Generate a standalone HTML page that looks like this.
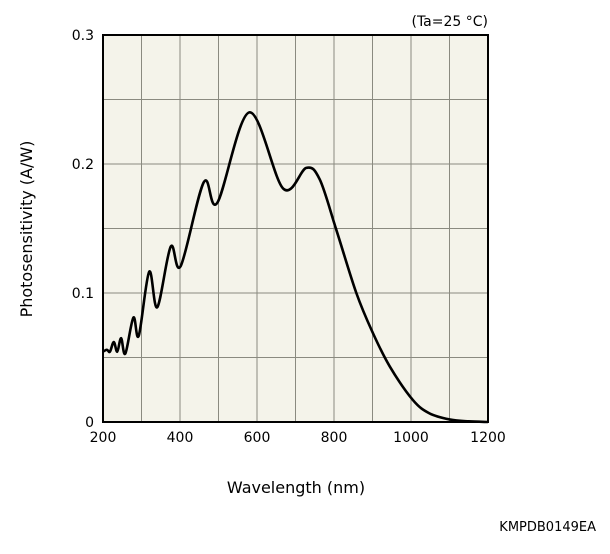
<!DOCTYPE html>
<html><head><meta charset="utf-8"><style>
body{margin:0;background:#fff;}
svg text{font-family:"DejaVu Sans","Liberation Sans",sans-serif;fill:#000;}
</style></head><body>
<svg width="610" height="549">
<rect x="103" y="35" width="385" height="387" fill="#f4f3ea"/>
<g id="grid"></g>
<path id="curve" fill="none" stroke="#000" stroke-width="2.6" stroke-linejoin="round"/>
<rect x="103" y="35" width="385" height="387" fill="none" stroke="#000" stroke-width="2"/>
<g id="ticks"></g>
<text x="488" y="26" font-size="14" text-anchor="end">(Ta=25 °C)</text>
<text x="296" y="493" font-size="16" text-anchor="middle">Wavelength (nm)</text>
<text transform="translate(32,229) rotate(-90)" font-size="16" text-anchor="middle">Photosensitivity (A/W)</text>
<text x="596" y="531" font-size="13" text-anchor="end">KMPDB0149EA</text>
</svg>
<script>
const wavelengths=[200,210,218,228,237,247,258,279,293,320,341,376,402,462,497,580,668,728,763,806,858,901,945,1005,1048,1100,1150,1200];
const sensitivity=[0.0545,0.056,0.0545,0.062,0.0545,0.065,0.053,0.081,0.067,0.1165,0.089,0.136,0.121,0.186,0.170,0.240,0.181,0.197,0.188,0.149,0.100,0.069,0.043,0.017,0.0067,0.002,0.0005,0];
const xTicks=[200,400,600,800,1000,1200];
const yTicks=[0,0.1,0.2,0.3];
const yTickLabels=["0","0.1","0.2","0.3"];
const X0=103,X1=488,Y0=422,Y1=35;
const sx=v=>X0+(v-200)/1000*(X1-X0);
const sy=v=>Y0-v/0.3*(Y0-Y1);
const ns="http://www.w3.org/2000/svg";
const grid=document.getElementById('grid');
for(let w=300;w<1200;w+=100){const l=document.createElementNS(ns,'line');
l.setAttribute('x1',sx(w));l.setAttribute('x2',sx(w));l.setAttribute('y1',Y1);l.setAttribute('y2',Y0);
l.setAttribute('stroke','#8a8a80');l.setAttribute('stroke-width','1');


grid.appendChild(l);}
for(let k=1;k<6;k++){const v=k*0.05;const l=document.createElementNS(ns,'line');
l.setAttribute('y1',sy(v));l.setAttribute('y2',sy(v));l.setAttribute('x1',X0);l.setAttribute('x2',X1);
l.setAttribute('stroke','#8a8a80');l.setAttribute('stroke-width','1');


grid.appendChild(l);}
const tk=document.getElementById('ticks');
xTicks.forEach(w=>{const t=document.createElementNS(ns,'text');
t.setAttribute('x',sx(w));t.setAttribute('y',442);t.setAttribute('font-size','14');t.setAttribute('text-anchor','middle');
t.textContent=w;


tk.appendChild(t);});
yTicks.forEach((v,i)=>{const t=document.createElementNS(ns,'text');
t.setAttribute('x',94);t.setAttribute('y',sy(v)+5);t.setAttribute('font-size','14');t.setAttribute('text-anchor','end');
t.textContent=yTickLabels[i];


tk.appendChild(t);});
const P=wavelengths.map((w,i)=>[sx(w),sy(sensitivity[i])]);
let d='M'+P[0][0]+','+P[0][1];
for(let i=0;i<P.length-1;i++){const p0=P[i-1]||P[i],p1=P[i],p2=P[i+1],p3=P[i+2]||P[i+1];
const c1=[p1[0]+(p2[0]-p0[0])/6,p1[1]+(p2[1]-p0[1])/6];
const c2=[p2[0]-(p3[0]-p1[0])/6,p2[1]-(p3[1]-p1[1])/6];
d+=' C'+c1+' '+c2+' '+p2;}
document.getElementById('curve').setAttribute('d',d);
</script>
</body></html>
